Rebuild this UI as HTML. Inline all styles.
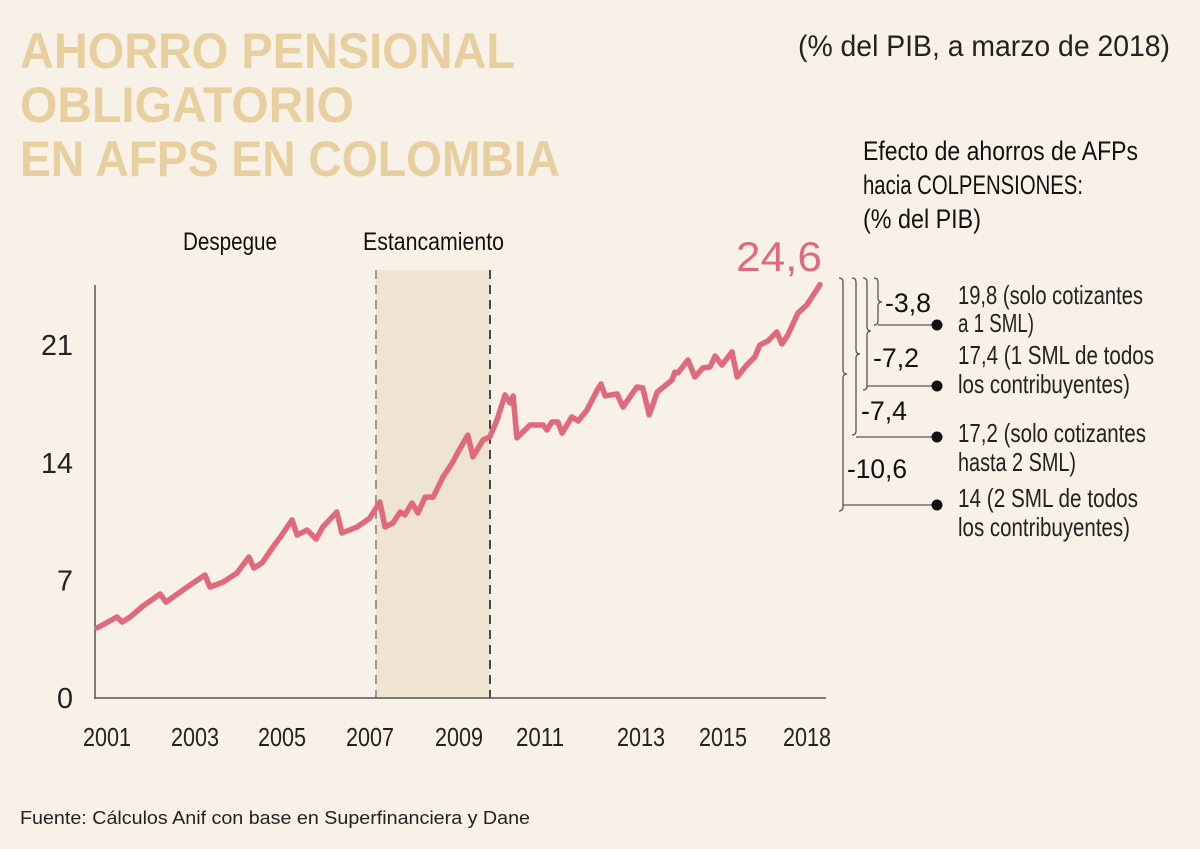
<!DOCTYPE html>
<html><head><meta charset="utf-8"><style>
html,body{margin:0;padding:0;background:#f7f1e7;}
svg{display:block;font-family:"Liberation Sans Narrow","Liberation Sans",sans-serif;}
</style></head><body>
<svg id="chart" width="1200" height="849" viewBox="0 0 1200 849">
<rect width="1200" height="849" fill="#f7f1e7"/>
<g fill="#e8cfa0" font-family="Liberation Sans, sans-serif" font-weight="bold" font-size="50">
<text x="20" y="68" textLength="495" lengthAdjust="spacingAndGlyphs">AHORRO PENSIONAL</text>
<text x="20" y="122" textLength="334" lengthAdjust="spacingAndGlyphs">OBLIGATORIO</text>
<text x="20" y="176" textLength="540" lengthAdjust="spacingAndGlyphs">EN AFPS EN COLOMBIA</text>
</g>
<text x="798" y="56" font-size="30" fill="#222" textLength="372" lengthAdjust="spacingAndGlyphs">(% del PIB, a marzo de 2018)</text>
<g font-size="27" fill="#111">
<text x="863" y="160" textLength="275" lengthAdjust="spacingAndGlyphs">Efecto de ahorros de AFPs</text>
<text x="863" y="194" textLength="220" lengthAdjust="spacingAndGlyphs">hacia COLPENSIONES:</text>
<text x="863" y="228" textLength="118" lengthAdjust="spacingAndGlyphs">(% del PIB)</text>
</g>
<rect x="376" y="270" width="114" height="428" fill="#efe4d2"/>
<line x1="376" y1="270" x2="376" y2="698" stroke="#999" stroke-width="2" stroke-dasharray="9,6"/>
<line x1="490" y1="270" x2="490" y2="698" stroke="#111" stroke-width="1.5" stroke-dasharray="9,6"/>
<text x="183" y="250" font-size="25" fill="#111" textLength="94" lengthAdjust="spacingAndGlyphs">Despegue</text>
<text x="363" y="250" font-size="25" fill="#111" textLength="141" lengthAdjust="spacingAndGlyphs">Estancamiento</text>
<line x1="95" y1="285" x2="95" y2="699" stroke="#555" stroke-width="1.5"/>
<line x1="95" y1="698" x2="826" y2="698" stroke="#555" stroke-width="1.5"/>
<g id="yticks"></g><g id="xticks"></g>
<path id="series" fill="none" stroke="#e06a7c" stroke-width="5.5" stroke-linejoin="round" stroke-linecap="round"/>
<text x="736" y="271" font-size="42" fill="#e06a7c" textLength="86" lengthAdjust="spacingAndGlyphs">24,6</text>
<g fill="none" stroke="#555" stroke-width="1.3">
<path d="M874 278 q4 0 4 4 v16 q0 4 4 4 q-4 0 -4 4 v15 q0 4 -4 4 M878 325 H932"/>
<path d="M863 278 q4 0 4 4 v45 q0 4 4 4 q-4 0 -4 4 v51 q0 4 -4 4 M867 386 H932"/>
<path d="M852 278 q4 0 4 4 v68 q0 4 4 4 q-4 0 -4 4 v73 q0 4 -4 4 M856 437 H932"/>
<path d="M839 278 q4 0 4 4 v88 q0 4 4 4 q-4 0 -4 4 v129 q0 4 -4 4 M843 505 H932"/>
</g>
<g fill="#111">
<circle cx="937" cy="325" r="5.5"/><circle cx="937" cy="386" r="5.5"/><circle cx="937" cy="437" r="5.5"/><circle cx="937" cy="505" r="5.5"/>
</g>
<g font-size="27" fill="#111">
<text x="885" y="312" textLength="46" lengthAdjust="spacingAndGlyphs">-3,8</text>
<text x="873" y="367" textLength="46" lengthAdjust="spacingAndGlyphs">-7,2</text>
<text x="861" y="420" textLength="46" lengthAdjust="spacingAndGlyphs">-7,4</text>
<text x="847" y="478" textLength="60" lengthAdjust="spacingAndGlyphs">-10,6</text>
</g>
<g font-size="26" fill="#222">
<text x="958" y="304" textLength="185" lengthAdjust="spacingAndGlyphs">19,8 (solo cotizantes</text>
<text x="958" y="332" textLength="76" lengthAdjust="spacingAndGlyphs">a 1 SML)</text>
<text x="958" y="364" textLength="196" lengthAdjust="spacingAndGlyphs">17,4 (1 SML de todos</text>
<text x="958" y="393" textLength="172" lengthAdjust="spacingAndGlyphs">los contribuyentes)</text>
<text x="958" y="442" textLength="188" lengthAdjust="spacingAndGlyphs">17,2 (solo cotizantes</text>
<text x="958" y="471" textLength="118" lengthAdjust="spacingAndGlyphs">hasta 2 SML)</text>
<text x="958" y="507" textLength="180" lengthAdjust="spacingAndGlyphs">14 (2 SML de todos</text>
<text x="958" y="536" textLength="172" lengthAdjust="spacingAndGlyphs">los contribuyentes)</text>
</g>
<text x="20" y="824" font-family="Liberation Sans, sans-serif" font-size="18" fill="#222" textLength="510" lengthAdjust="spacingAndGlyphs">Fuente: Cálculos Anif con base en Superfinanciera y Dane</text>
</svg>
<script>
const dates=[2001.05,2001.52,2001.64,2001.83,2002.14,2002.54,2002.68,2003.18,2003.6,2003.72,2004.03,2004.36,2004.64,2004.76,2004.95,2005.21,2005.42,2005.66,2005.78,2006.02,2006.23,2006.39,2006.72,2006.84,2007.2,2007.5,2007.74,2007.86,2008.05,2008.22,2008.33,2008.5,2008.64,2008.81,2009.0,2009.23,2009.45,2009.59,2009.82,2009.94,2010.18,2010.34,2010.51,2010.7,2010.82,2010.89,2010.98,2011.29,2011.6,2011.69,2011.81,2011.95,2012.05,2012.28,2012.43,2012.64,2012.88,2012.97,2013.07,2013.35,2013.49,2013.82,2013.96,2014.11,2014.3,2014.65,2014.72,2014.79,2015.03,2015.19,2015.38,2015.55,2015.67,2015.83,2016.07,2016.19,2016.42,2016.61,2016.73,2016.92,2017.13,2017.25,2017.39,2017.63,2017.84,2018.15];
const values=[4.17,4.82,4.52,4.82,5.48,6.19,5.71,6.6,7.32,6.6,6.9,7.44,8.39,7.74,8.04,8.99,9.7,10.6,9.7,10.0,9.46,10.18,11.07,9.82,10.18,10.71,11.67,10.18,10.42,11.07,10.89,11.61,11.01,11.96,11.96,13.15,13.99,14.64,15.65,14.35,15.36,15.54,16.55,18.04,17.56,17.98,15.48,16.25,16.25,15.95,16.43,16.43,15.77,16.73,16.49,17.14,18.33,18.69,17.98,18.1,17.32,18.51,18.45,16.85,18.21,18.93,19.4,19.35,20.12,19.11,19.64,19.7,20.36,19.82,20.6,19.11,19.82,20.3,21.01,21.25,21.79,21.07,21.61,22.92,23.39,24.6];
const yTicks=[0,7,14,21];
const xTickLabels=["2001","2003","2005","2007","2009","2011","2013","2015","2018"];
const xTickPos=[107,195,282,370,459,540,641,723,807];
const NS="http://www.w3.org/2000/svg";
function xs(t){return 95+(t-2001)*42.27;}
function ys(v){return 698-v*16.8;}
let d="";
for(let i=0;i<dates.length;i++){d+=(i?"L":"M")+xs(dates[i]).toFixed(1)+" "+ys(values[i]).toFixed(1);}
document.getElementById("series").setAttribute("d",d);
const yg=document.getElementById("yticks");
yTicks.forEach(v=>{const t=document.createElementNS(NS,"text");


const s=String(v);
t.setAttribute("x",73-s.length*16);t.setAttribute("y",ys(v)+10);
t.setAttribute("textLength",s.length*16);t.setAttribute("lengthAdjust","spacingAndGlyphs");
t.setAttribute("font-size","29");t.setAttribute("fill","#222");t.textContent=s;yg.appendChild(t);});
const xg=document.getElementById("xticks");
xTickLabels.forEach((l,i)=>{const t=document.createElementNS(NS,"text");


t.setAttribute("x",xTickPos[i]-24);t.setAttribute("y",746);
t.setAttribute("textLength",48);t.setAttribute("lengthAdjust","spacingAndGlyphs");
t.setAttribute("font-size","26");t.setAttribute("fill","#222");t.textContent=l;xg.appendChild(t);});
</script>
</body></html>
